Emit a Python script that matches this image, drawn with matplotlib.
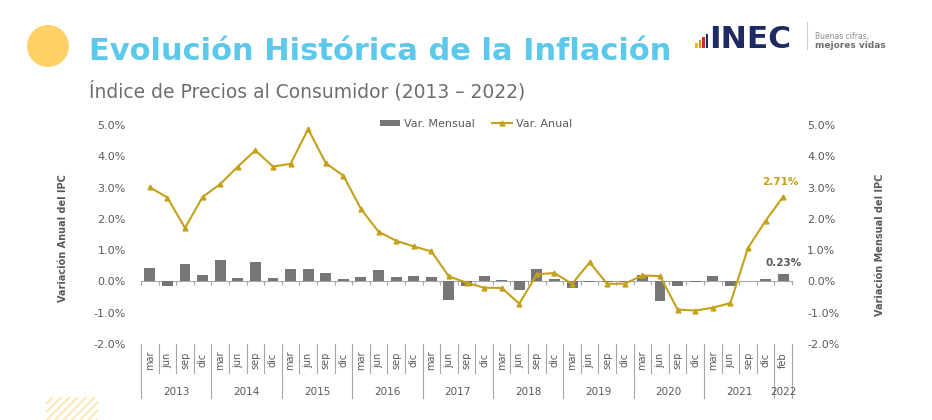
import matplotlib
matplotlib.use("Agg")
import matplotlib.pyplot as plt
import matplotlib.transforms as mtransforms
from matplotlib.patches import Ellipse, Rectangle
from matplotlib.lines import Line2D

# Datos: IPC Ecuador, variacion trimestral seleccionada
meses = ['mar', 'jun', 'sep', 'dic'] * 9 + ['feb']
anios = ['2013', '2014', '2015', '2016', '2017', '2018', '2019', '2020', '2021', '2022']
meses_por_anio = [4, 4, 4, 4, 4, 4, 4, 4, 4, 1]

var_anual = [3.01, 2.68, 1.71, 2.70, 3.11, 3.67, 4.19, 3.67, 3.76, 4.87, 3.78, 3.38,
             2.32, 1.59, 1.30, 1.12, 0.96, 0.16, -0.04, -0.20, -0.21, -0.71, 0.23, 0.27,
             -0.08, 0.61, -0.08, -0.07, 0.19, 0.17, -0.90, -0.93, -0.84, -0.69, 1.07, 1.94,
             2.71]
var_mensual = [0.44, -0.14, 0.57, 0.20, 0.70, 0.10, 0.61, 0.11, 0.41, 0.41, 0.26, 0.09,
               0.14, 0.36, 0.15, 0.16, 0.14, -0.58, -0.15, 0.18, 0.06, -0.27, 0.39, 0.09,
               -0.21, -0.02, -0.01, -0.01, 0.21, -0.62, -0.15, -0.03, 0.18, -0.16, 0.02, 0.07,
               0.23]

GOLD = '#C4A11A'
BAR = '#767676'
TXT = '#595959'
SEP = '#A6A6A6'

W, H = 932, 420
plt.rcParams['font.family'] = ['DejaVu Sans']

fig = plt.figure(figsize=(W / 100, H / 100), dpi=100)


def fx(px):
    return px / W


def fy(py):
    return 1 - py / H


# Encabezado
fig.patches.append(Ellipse((fx(48), fy(46)), 42 / W, 42 / H, transform=fig.transFigure,
                           facecolor='#FFD166', edgecolor='none'))
fig.text(fx(89), fy(60), 'Evolución Histórica de la Inflación', fontsize=22,
         fontweight='bold', color='#5CC8EC', ha='left', va='baseline')
fig.text(fx(89), fy(97), 'Índice de Precios al Consumidor (2013 – 2022)', fontsize=13.5,
         color='#6E6E6E', ha='left', va='baseline')

# Logo INEC
logo_cols = ['#F5B800', '#F08A00', '#D7262B', '#1E2B63']
for k, c in enumerate(logo_cols):
    h = 5 + 3 * k
    fig.patches.append(Rectangle((fx(695 + 3.5 * k), fy(48)), 2.6 / W, h / H,
                                 transform=fig.transFigure, facecolor=c, edgecolor='none'))
fig.text(fx(709), fy(48), 'INEC', fontsize=22.5, fontweight='bold', color='#1E2B63',
         ha='left', va='baseline')
fig.add_artist(Line2D([fx(807), fx(807)], [fy(22), fy(49)], transform=fig.transFigure,
                      color='#CCCCCC', lw=0.8))
fig.text(fx(815), fy(36.5), 'Buenas cifras,', fontsize=5.5, color='#8C8C8C',
         ha='left', va='center')
fig.text(fx(815), fy(45.5), 'mejores vidas', fontsize=6.5, fontweight='bold', color='#6E6E6E',
         ha='left', va='center')

# Decoracion rayada inferior
plt.rcParams['hatch.linewidth'] = 1.2
fig.patches.append(Rectangle((fx(46), fy(422)), 52 / W, 25 / H, transform=fig.transFigure,
                             facecolor='none', edgecolor='#FAE6AA', hatch='////', lw=0))

# Grafico
ax = fig.add_axes([fx(141), fy(344), 651 / W, 219 / H])
ax2 = ax.twinx()
x = list(range(len(meses)))

ax.bar(x, var_mensual, width=0.62, color=BAR, zorder=2)
ax2.plot(x, var_anual, color=GOLD, lw=1.5, marker='^', markersize=3.5, zorder=3)

for a in (ax, ax2):
    a.set_xlim(-0.5, len(meses) - 0.5)
    a.set_ylim(-2, 5)
    a.set_yticks(range(-2, 6))
    a.set_yticklabels([f'{v:.1f}%' for v in range(-2, 6)])
    a.tick_params(axis='y', length=0, labelsize=8, labelcolor=TXT, pad=11)
    for s in ('top', 'left', 'right'):
        a.spines[s].set_visible(False)
ax2.spines['bottom'].set_visible(False)

# Eje en cero con marcas entre categorias
ax.spines['bottom'].set_position(('data', 0))
ax.spines['bottom'].set_color(SEP)
ax.spines['bottom'].set_zorder(1)
ax.set_xticks([i - 0.5 for i in range(len(meses) + 1)])
ax.set_xticklabels([])
ax.tick_params(axis='x', direction='out', length=3, color=SEP, width=0.8)

# Etiquetas de categorias en dos niveles
trans = mtransforms.blended_transform_factory(ax.transData, ax.transAxes)
for i, m in enumerate(meses):
    ax.text(i, -0.073, m, transform=trans, rotation=90, ha='center', va='center',
            fontsize=7, color=TXT)
inicio = 0
limites = [0]
for anio, n in zip(anios, meses_por_anio):
    centro = inicio + (n - 1) / 2
    ax.text(centro, -0.219, anio, transform=trans, ha='center', va='center',
            fontsize=7.5, color=TXT)
    inicio += n
    limites.append(inicio)
for b in range(len(meses) + 1):
    y1 = -0.247 if b in limites else -0.132
    ax.plot([b - 0.5, b - 0.5], [0, y1], transform=trans, color=SEP, lw=0.8,
            clip_on=False)

# Titulos de ejes
ax.text(-0.12, 0.484, 'Variación Anual del IPC', transform=ax.transAxes, rotation=90,
        ha='center', va='center', fontsize=7, fontweight='bold', color=TXT)
ax.text(1.135, 0.452, 'Variación Mensual del IPC', transform=ax.transAxes, rotation=90,
        ha='center', va='center', fontsize=7, fontweight='bold', color=TXT)

# Etiquetas de ultimo dato
ax2.annotate(f'{var_anual[-1]:.2f}%', (x[-1], var_anual[-1]), xytext=(-3, 14.5),
             textcoords='offset pixels', ha='center', va='center', fontsize=7.5,
             fontweight='bold', color=GOLD)
ax.annotate(f'{var_mensual[-1]:.2f}%', (x[-1], var_mensual[-1]), xytext=(0, 11),
            textcoords='offset pixels', ha='center', va='center', fontsize=7.5,
            fontweight='bold', color=TXT)

# Leyenda
handles = [Rectangle((0, 0), 1, 1, facecolor=BAR),
           Line2D([], [], color=GOLD, lw=1.5, marker='^', markersize=3.5)]
ax2.legend(handles, ['Var. Mensual', 'Var. Anual'], loc='center', ncol=2,
           bbox_to_anchor=(0.515, 1.005), frameon=False, fontsize=8,
           labelcolor=TXT, handlelength=1.8, handleheight=0.5, handletextpad=0.3,
           columnspacing=1.6)

fig.savefig('out.png', dpi=100)
